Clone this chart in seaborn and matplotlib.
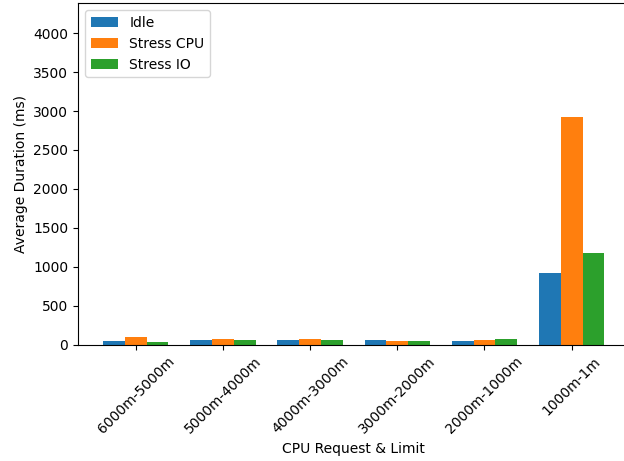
import matplotlib
matplotlib.use("Agg")
import matplotlib.pyplot as plt
import seaborn as sns
import pandas as pd

categories = ["6000m-5000m", "5000m-4000m", "4000m-3000m", "3000m-2000m", "2000m-1000m", "1000m-1m"]
idle = [40, 55, 55, 55, 52, 920]
stress_cpu = [92, 68, 68, 50, 64, 2923]
stress_io = [37, 55, 55, 42, 75, 1178]
series_names = ["Idle", "Stress CPU", "Stress IO"]
colors = ["#1f77b4", "#ff7f0e", "#2ca02c"]

rows = []
for name, vals in zip(series_names, [idle, stress_cpu, stress_io]):
    for c, v in zip(categories, vals):
        rows.append({"cat": c, "series": name, "val": v})
df = pd.DataFrame(rows)

fig = plt.figure(figsize=(6.24, 4.61), dpi=100)
ax = fig.add_axes([78 / 624, 116.4 / 461, 551.4 / 624, 341.3 / 461])

sns.barplot(data=df, x="cat", y="val", hue="series", order=categories,
            hue_order=series_names, palette=colors, saturation=1,
            width=0.75, linewidth=0, errorbar=None, ax=ax)

ax.set_xlim(-0.6625, 5.6625)
ax.set_ylim(0, max(stress_cpu) * 1.5)
ax.set_xlabel("CPU Request & Limit")
ax.set_ylabel("Average Duration (ms)")
ax.tick_params(axis="x", labelrotation=45)
ax.spines["right"].set_visible(False)
sns.move_legend(ax, "upper left", title=None)

fig.savefig("out.png", dpi=100)
